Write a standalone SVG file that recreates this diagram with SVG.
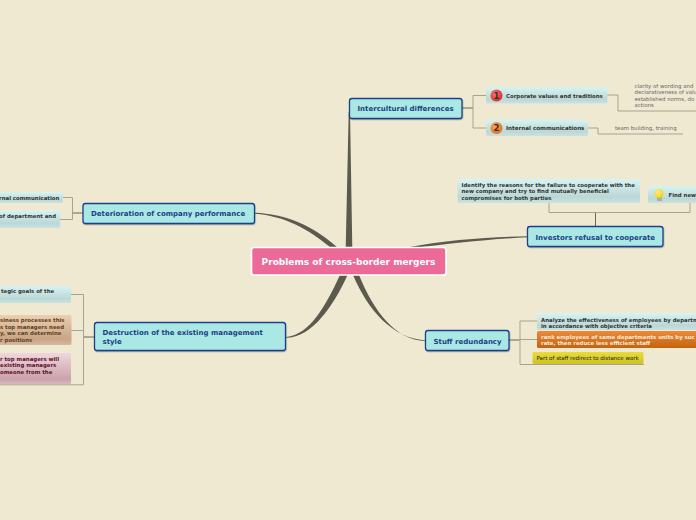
<svg xmlns="http://www.w3.org/2000/svg" width="696" height="520" viewBox="0 0 696 520">
<style>
text{font-family:"DejaVu Sans",Verdana,sans-serif;font-weight:700}
.main{fill:#a9e8e3;stroke:#1c3f8a;stroke-width:1.3;filter:url(#sh)}
.mt{font-size:7px;fill:#1c3f8a}
.lf{font-size:5.4px;fill:#333}
.n{font-size:5.4px;fill:#666;font-weight:400}
.ln{fill:none;stroke:#a8a290;stroke-width:1}
.dk{fill:none;stroke:#6b6757;stroke-width:1}
.br{fill:#5c5a4c}
</style>
<defs>
<linearGradient id="gc" x1="0" y1="0" x2="0" y2="1"><stop offset="0" stop-color="#d8f4f2"/><stop offset=".75" stop-color="#bcd8d6"/><stop offset="1" stop-color="#c8e2e0"/></linearGradient>
<linearGradient id="go" x1="0" y1="0" x2="0" y2="1"><stop offset="0" stop-color="#ec8a3c"/><stop offset="1" stop-color="#c2640f"/></linearGradient>
<linearGradient id="gy" x1="0" y1="0" x2="0" y2="1"><stop offset="0" stop-color="#e8dc3a"/><stop offset="1" stop-color="#cfc224"/></linearGradient>
<linearGradient id="gt" x1="0" y1="0" x2="0" y2="1"><stop offset="0" stop-color="#eccfae"/><stop offset=".8" stop-color="#c9a588"/><stop offset="1" stop-color="#d6b89a"/></linearGradient>
<linearGradient id="gp" x1="0" y1="0" x2="0" y2="1"><stop offset="0" stop-color="#f0d6dc"/><stop offset=".85" stop-color="#c9a2aa"/><stop offset="1" stop-color="#d8b8c0"/></linearGradient>
<radialGradient id="r1" cx=".4" cy=".35" r=".7"><stop offset="0" stop-color="#f47a72"/><stop offset="1" stop-color="#d42a24"/></radialGradient>
<radialGradient id="r2" cx=".4" cy=".35" r=".7"><stop offset="0" stop-color="#f8a860"/><stop offset="1" stop-color="#e56c14"/></radialGradient>
<radialGradient id="rb" cx=".4" cy=".35" r=".7"><stop offset="0" stop-color="#fff27a"/><stop offset="1" stop-color="#f2c818"/></radialGradient>
<filter id="sh" x="-10%" y="-20%" width="120%" height="150%"><feDropShadow dx="0.5" dy="1" stdDeviation="0.7" flood-color="#000" flood-opacity=".3"/></filter>
</defs>
<rect width="696" height="520" fill="#f0e9d2"/>
<g id="connectors">
<path class="br" d="M345.700 248L348.700 112L350 112L352.300 248Z"/>
<path class="br" d="M337 247C312 225 285 214 255 212.800L255 213.700C285 216 308 229 330 247Z"/>
<path class="br" d="M404 248C450 239.500 490 237 528 236.300L528 237.300C490 239 450 243.500 414 248Z"/>
<path class="br" d="M340 275C326 305 310 335 286 337L286 337.800C312 338 334 305 347.500 275Z"/>
<path class="br" d="M353 275C368 310 392 338 425 340.300L425 341C396 340 374 312 359 275Z"/>
<path class="dk" d="M462 108H473M509 340H520M82.700 213H72.500M94 337H83.500M595.500 226V212.500"/>
<path class="ln" d="M486 95.500H473V128H486M607 95H618V111H696M588 128H598V134H683"/>
<path class="ln" d="M549 203V212.500H690V203"/>
<path class="ln" d="M63 197.500H72.500V219.500H60"/>
<path class="ln" d="M71 294.500H83.500V384.800H0M71 330.500H83.500"/>
<path class="ln" d="M537 321H520V364.500H644M520 339.500H537"/>
</g>
<g id="center"><rect x="251.500" y="247.500" width="194.500" height="27.500" rx="2.500" fill="#ec6a97" stroke="#fff" stroke-width="1.600"/><text x="348.500" y="265" text-anchor="middle" font-size="9" fill="#fff">Problems of cross-border mergers</text></g>
<g id="intercultural"><rect class="main" x="349.500" y="98.500" width="112.500" height="20" rx="2.500"/><text class="mt" x="357.500" y="110.800">Intercultural differences</text></g>
<g id="corporate"><rect x="486" y="87" width="121.500" height="16.500" rx="1.500" fill="url(#gc)"/><circle cx="496.500" cy="95.500" r="6" fill="url(#r1)"/><text x="496.500" y="98.500" text-anchor="middle" font-size="8.500" fill="#333">1</text><text class="lf" x="506" y="98">Corporate values and traditions</text></g>
<g id="internal"><rect x="486" y="119.500" width="102" height="16.500" rx="1.500" fill="url(#gc)"/><circle cx="496.500" cy="128" r="6" fill="url(#r2)"/><text x="496.500" y="131" text-anchor="middle" font-size="8.500" fill="#333">2</text><text class="lf" style="font-size:5.600px" x="506" y="130">Internal communications</text></g>
<g id="note-clarity"><text class="n" x="634.500" y="87.500">clarity of wording and</text><text class="n" x="634.500" y="94">declarativeness of valu</text><text class="n" x="634.500" y="100.500">established norms, do</text><text class="n" x="634.500" y="107">actions</text></g>
<g id="note-team"><text class="n" x="615" y="130">team building, training</text></g>
<g id="investors"><rect class="main" x="527.500" y="226.500" width="135.500" height="20" rx="2.500"/><text class="mt" x="535.500" y="239.500">Investors refusal to cooperate</text></g>
<g id="identify"><rect x="457.500" y="179" width="182.500" height="24" rx="1.500" fill="url(#gc)"/><text class="lf" x="461.500" y="187">Identify the reasons for the failure to cooperate with the</text><text class="lf" x="461.500" y="193">new company and try to find mutually beneficial</text><text class="lf" x="461.500" y="200">compromises for both parties</text></g>
<g id="find-new"><rect x="648" y="186" width="48" height="17" rx="1" fill="url(#gc)"/><rect x="657" y="196" width="5" height="5" fill="#b5ae9a"/><circle cx="659" cy="193.500" r="4.500" fill="url(#rb)"/><text class="lf" x="668.500" y="197">Find new</text></g>
<g id="deterioration"><rect class="main" x="83" y="203.500" width="171.500" height="20" rx="2.500"/><text class="mt" x="91" y="216">Deterioration of company performance</text></g>
<g id="leaf-communication"><rect x="-4" y="192" width="67" height="11" rx="1.500" fill="url(#gc)"/><text class="lf" x="-1" y="200">rnal communication</text></g>
<g id="leaf-department"><rect x="-4" y="210" width="64" height="18" rx="1.500" fill="url(#gc)"/><text class="lf" x="-1" y="218">of department and</text></g>
<g id="destruction"><rect class="main" x="94.500" y="322.500" width="191" height="28" rx="2.500"/><text class="mt" x="102.500" y="334.500">Destruction of the existing management</text><text class="mt" x="102.500" y="343.500">style</text></g>
<g id="leaf-goals"><rect x="-4" y="286" width="75" height="17" rx="1.500" fill="url(#gc)"/><text class="lf" x="1" y="293">tegic goals of the</text></g>
<g id="leaf-processes"><rect x="-4" y="315" width="75.500" height="30" rx="1.500" fill="url(#gt)"/><text class="lf" style="fill:#5e4020" x="0" y="322">siness processes this</text><text class="lf" style="fill:#5e4020" x="0" y="329">s top managers need</text><text class="lf" style="fill:#5e4020" x="0" y="335">y, we can determine</text><text class="lf" style="fill:#5e4020" x="0" y="342">r positions</text></g>
<g id="leaf-managers"><rect x="-4" y="353" width="75" height="31" rx="1.500" fill="url(#gp)"/><text class="lf" style="fill:#5e1030" x="0" y="361">r top managers will</text><text class="lf" style="fill:#5e1030" x="0" y="367">existing managers</text><text class="lf" style="fill:#5e1030" x="0" y="374">omeone from the</text></g>
<g id="stuff"><rect class="main" x="425.500" y="330.500" width="83.500" height="20" rx="2.500"/><text class="mt" x="433.500" y="343.500">Stuff redundancy</text></g>
<g id="leaf-analyze"><rect x="537" y="313" width="163" height="17" rx="1.500" fill="url(#gc)"/><text class="lf" x="541" y="321.500">Analyze the effectiveness of employees by departm</text><text class="lf" x="541" y="327.500">in accordance with objective criteria</text></g>
<g id="leaf-rank"><rect x="537" y="331" width="163" height="17" rx="1.500" fill="url(#go)"/><text class="lf" style="fill:#fbe9d8" x="541" y="339">rank employees of same departments units by suc</text><text class="lf" style="fill:#fbe9d8" x="541" y="345">rate, then reduce less efficient staff</text></g>
<g id="leaf-part"><rect x="532.500" y="352" width="111" height="12" rx="1.500" fill="url(#gy)"/><text style="font-size:5.500px;font-weight:400;fill:#222" x="536.500" y="360">Part of staff redirect to distance work</text></g>
</svg>
